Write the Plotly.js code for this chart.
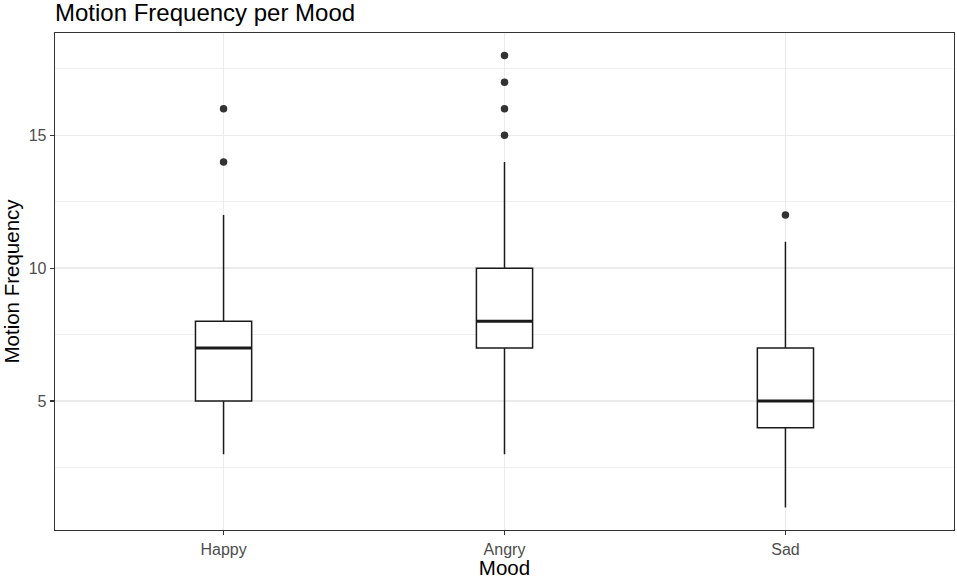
<!DOCTYPE html>
<html>
<head>
<meta charset="utf-8">
<script src="https://cdn.plot.ly/plotly-3.0.1.min.js"></script>
<style>html,body{margin:0;padding:0;background:#fff;}#chart{width:957px;height:579px;}</style>
</head>
<body>
<div id="chart"></div>
<script>
const categories = ["Happy", "Angry", "Sad"];
const lowerWhisker = [3, 3, 1];
const q1Values = [5, 7, 4];
const medianValues = [7, 8, 5];
const q3Values = [8, 10, 7];
const upperWhisker = [12, 14, 11];
const outliers = [[14, 16], [15, 16, 17, 18], [12]];
const yTicks = [5, 10, 15];

const traces = [];
categories.forEach((c, i) => {
  traces.push({
    type: "box",
    x: [i],
    q1: [q1Values[i]],
    median: [medianValues[i]],
    q3: [q3Values[i]],
    lowerfence: [lowerWhisker[i]],
    upperfence: [upperWhisker[i]],
    width: 0.2,
    fillcolor: "white",
    line: { color: "#1a1a1a", width: 1.5 },
    whiskerwidth: 0,
    hoverinfo: "skip",
    showlegend: false
  });
  // thicker median line (ggplot style)
  traces.push({
    type: "scatter",
    mode: "lines",
    x: [i - 0.1, i + 0.1],
    y: [medianValues[i], medianValues[i]],
    line: { color: "#1a1a1a", width: 3 },
    hoverinfo: "skip",
    showlegend: false
  });
  traces.push({
    type: "scatter",
    mode: "markers",
    x: outliers[i].map(() => i),
    y: outliers[i],
    marker: { color: "#333333", size: 7.5 },
    hoverinfo: "skip",
    showlegend: false
  });
});

const layout = {
  width: 957,
  height: 579,
  margin: { l: 55, r: 3, t: 33, b: 49 },
  paper_bgcolor: "white",
  plot_bgcolor: "white",
  font: { family: "Liberation Sans, Arial, sans-serif", color: "#000" },
  title: {
    text: "Motion Frequency per Mood",
    x: 0, xref: "paper", xanchor: "left",
    y: 1 - 13 / 579, yref: "container", yanchor: "middle",
    font: { size: 24, color: "#000" }
  },
  xaxis: {
    range: [-0.6, 2.6],
    tickvals: [0, 1, 2],
    ticktext: categories,
    showgrid: true, gridcolor: "#EBEBEB", gridwidth: 1.5,
    zeroline: false,
    showline: true, mirror: true, linecolor: "#333333", linewidth: 1.3,
    ticks: "outside", ticklen: 4, tickcolor: "#333333", tickwidth: 1.3,
    tickfont: { size: 16, color: "#4D4D4D" },
    title: { text: "Mood", font: { size: 20.5, color: "#000" }, standoff: 4 }
  },
  yaxis: {
    range: [0.15, 18.85],
    tickvals: yTicks,
    ticktext: yTicks.map(String),
    showgrid: true, gridcolor: "#EBEBEB", gridwidth: 1.5,
    minor: { tickmode: "linear", tick0: 2.5, dtick: 5, showgrid: true, gridcolor: "#EBEBEB", gridwidth: 0.8, ticks: "" },
    zeroline: false,
    showline: true, mirror: true, linecolor: "#333333", linewidth: 1.3,
    ticks: "outside", ticklen: 4, tickcolor: "#333333", tickwidth: 1.3,
    tickfont: { size: 16, color: "#4D4D4D" },
    title: { text: "Motion Frequency", font: { size: 20.5, color: "#000" }, standoff: 4 }
  }
};

Plotly.newPlot("chart", traces, layout, { displayModeBar: false, staticPlot: true });
</script>
</body>
</html>
